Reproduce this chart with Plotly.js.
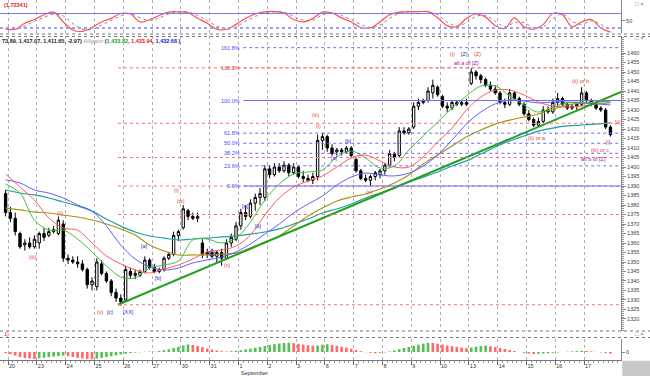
<!DOCTYPE html>
<html><head><meta charset="utf-8">
<script src="https://cdn.plot.ly/plotly-3.0.1.min.js"></script>
<style>html,body{margin:0;padding:0;background:#fff}#chart{width:650px;height:376px}</style>
</head><body><div id="chart"></div>
<script>
// ---- data ----
const dayLabels = ['20','23','24','25','26','27','30','31','1','2','3','6','7','8','9','10','13','14','15','16','17'];
const dayTicks = [0.5,6.5,12.5,18.5,24.5,30.5,36.5,42.5,48.5,54.5,60.5,66.5,72.5,78.5,84.5,90.5,96.5,102.5,108.5,114.5,120.5];

const open = [1386,1376,1373,1365,1359,1360,1358,1360,1365,1364,
1366,1365,1370,1352,1351,1350,1349,1346,1338,1337,
1349,1344,1340,1334,1331,1330,1345,1343,1343,1345,
1351,1347,1345,1346,1352,1354,1364,1368,1377,1374,
1373,1360,1354,1355,1353,1355,1352,1360,1362,1369,
1376,1374,1381,1384,1384,1399,1396,1400,1398,1401,
1397,1400,1395,1394,1393,1395,1414,1416,1410,1408,
1409,1408,1410,1404,1398,1394,1393,1395,1396,1398,
1401,1407,1406,1419,1418,1421,1432,1434,1435,1439,
1442,1437,1432,1431,1434,1433,1434,1444,1450,1448,
1446,1443,1441,1439,1434,1433,1439,1436,1433,1428,
1425,1422,1424,1430,1429,1434,1436,1433,1431,1432,
1433,1439,1435,1433,1431,1430,1421];
const high = [1388,1379,1376,1366,1362,1363,1364,1366,1368,1368,
1369,1374,1372,1354,1353,1353,1351,1347,1342,1352,
1351,1345,1341,1336,1333,1348,1347,1346,1346,1353,
1352,1349,1347,1353,1355,1366,1367,1380,1378,1376,
1376,1362,1357,1357,1356,1357,1362,1365,1371,1378,
1380,1383,1386,1389,1401,1401,1402,1402,1403,1402,
1402,1401,1398,1396,1397,1417,1418,1417,1412,1410,
1410,1411,1411,1405,1399,1396,1396,1398,1399,1402,
1409,1408,1421,1421,1421,1434,1436,1436,1442,1446,
1443,1438,1434,1435,1435,1435,1436,1452,1451,1449,
1447,1445,1443,1440,1436,1441,1440,1437,1434,1430,
1426,1426,1432,1432,1436,1439,1437,1434,1433,1434,
1442,1440,1436,1434,1432,1431,1422];
const low = [1374,1371,1364,1357,1356,1357,1357,1357,1361,1363,
1365,1364,1350,1349,1349,1347,1345,1336,1335,1335,
1343,1339,1332,1329,1327,1329,1341,1341,1342,1344,
1346,1344,1344,1345,1351,1353,1361,1367,1372,1372,
1371,1352,1352,1352,1350,1348,1351,1358,1361,1367,
1372,1373,1377,1380,1382,1394,1395,1397,1397,1395,
1396,1394,1392,1392,1391,1393,1409,1408,1406,1406,
1406,1407,1405,1397,1393,1392,1390,1393,1394,1396,
1400,1403,1405,1417,1417,1420,1430,1433,1434,1436,
1437,1431,1429,1430,1432,1432,1432,1443,1446,1444,
1442,1440,1438,1433,1431,1432,1435,1432,1427,1424,
1421,1421,1423,1428,1428,1432,1432,1430,1430,1430,
1432,1434,1432,1430,1429,1420,1416];
const close = [1376,1373,1366,1358,1360,1358,1362,1365,1363,1366,
1367,1372,1352,1351,1350,1349,1346,1338,1340,1350,
1344,1340,1334,1331,1329,1346,1343,1344,1345,1351,
1347,1345,1346,1352,1354,1364,1366,1378,1374,1373,
1374,1354,1355,1353,1355,1352,1360,1363,1369,1376,
1374,1381,1384,1386,1399,1396,1400,1398,1401,1397,
1400,1395,1394,1393,1395,1414,1416,1410,1407,1409,
1408,1410,1406,1398,1394,1393,1395,1397,1398,1401,
1407,1405,1419,1418,1420,1432,1434,1435,1440,1443,
1438,1432,1431,1434,1433,1434,1433,1450,1448,1446,
1443,1441,1439,1434,1433,1439,1436,1433,1428,1425,
1422,1424,1430,1429,1434,1436,1433,1431,1432,1433,
1439,1435,1433,1431,1430,1421,1417];

const maX = [0,3,6,9,12,15,18,21,24,27,30,33,36,39,42,45,48,51,54,57,60,63,66,69,72,75,78,81,84,87,90,93,96,99,102,105,108,111,114,117,120,123,126];
const lips = [1391.1,1386.3,1372.1,1366.8,1366.8,1362.1,1355.3,1347.9,1342.1,1341.6,1346.8,1348.4,1350.5,1361.6,1362.1,1360,1362.6,1371,1382.6,1391,1396.3,1397.4,1398.4,1405.3,1408.4,1404.7,1399.5,1400.5,1408.9,1416.3,1423.7,1431,1437.4,1442.6,1442.6,1437.4,1432.6,1428.9,1431.6,1433.7,1434.2,1433.5,1433.8];
const teeth = [1396.3,1389.5,1382.6,1373.2,1367.9,1366.8,1360,1353.2,1349,1345.8,1344.2,1346.3,1348.4,1351.6,1355.3,1356.3,1358.4,1364.2,1374.7,1383.7,1389.5,1392.6,1395.3,1400,1404.7,1406.3,1403.2,1400,1400,1405.3,1413.2,1420.5,1430,1436.8,1440.5,1440.5,1437.9,1434.2,1432.1,1431.6,1432.1,1433.2,1433.9];
const jaw = [1393.2,1391.6,1387.9,1386.3,1383.7,1380,1376.8,1368.9,1358.9,1351.6,1347.4,1345.8,1346.8,1349.5,1351.1,1352.6,1355.3,1359.5,1364.7,1370,1375.8,1380.5,1384.7,1390.5,1394.7,1396.8,1395.8,1395.3,1396.8,1400.5,1406.3,1414.2,1422.6,1428.9,1433.2,1435.3,1434.7,1433.7,1434.2,1434.2,1433.7,1433.2,1432.7];
const maOlive = [1378.4,1377.4,1376.3,1375.8,1374.7,1373.7,1372.1,1370,1367.4,1364.2,1358.9,1355.8,1353.7,1353.7,1353.7,1354.2,1354.7,1357.4,1360.5,1363.7,1368.9,1374.2,1378.4,1382.1,1384.2,1385.8,1388.4,1391.6,1395.8,1401.6,1406.3,1411.1,1415.8,1419.5,1422.6,1424.7,1426.3,1427.9,1430.5,1432.6,1433.7,1434.2,1434.7];
const maTeal = [1387.9,1386.3,1385.3,1383.7,1381.6,1379.5,1376.8,1372.6,1368.9,1365.8,1363.7,1362.6,1361.6,1362.1,1362.6,1363.2,1363.7,1364.7,1365.8,1367.4,1370,1372.6,1375.8,1377.9,1380.5,1383.7,1386.3,1388.9,1392.1,1394.7,1397.4,1400.5,1403.2,1406.8,1410.5,1413.7,1416.3,1418.9,1420.5,1421.6,1422.1,1422.6,1423.2];

const stX = [0,2,4,6,8,10,12,14,16,18,20,22,24,26,28,30,32,34,36,38,40,42,44,46,48,50,52,54,56,58,60,62,64,66,68,70,72,74,76,78,80,82,84,86,88,90,92,94,96,98,100,102,104,106,108,110,112,114,116,118,120,122,124,126];
const stochK = [15,15,40,55,75,86,45,12,6,22,45,60,80,78,45,55,72,86,87,84,60,40,15,15,35,60,78,87,88,82,55,45,60,86,82,62,45,22,20,45,75,86,88,87,88,62,30,25,60,78,65,30,18,62,25,15,35,80,75,25,45,55,20,3];
const stochD = [18,14,28,48,64,78,70,38,15,14,32,52,70,80,62,52,62,78,86,86,72,50,28,15,25,48,68,82,87,86,68,52,52,74,84,72,55,34,22,32,60,80,87,88,87,75,45,28,42,68,72,48,25,42,42,22,25,58,78,48,35,50,35,12];

const ao = [-1,-2,-3.5,-5,-6,-6.5,-7,-6.3,-5.8,-5.2,
-4.6,-4,-3.5,-4.2,-5,-5.8,-6.5,-7,-7.3,-6.6,
-5.8,-5,-4.2,-3.4,-2.6,-1.8,-1,-0.6,-0.3,0.2,
0.4,0.3,1,1.8,2.8,4,5.2,6.5,7.5,7,
6,4.8,3.5,2.4,1.5,0.8,0.5,0.8,1.2,1.8,
2.6,3.4,4.2,5,6,7,7.8,8.5,9,9.3,
8.8,8.2,7.5,6.8,6.2,6.5,7.3,7.8,7.2,6.3,
5.3,4.3,3.2,2,0.8,-0.2,-0.8,-1.2,-0.9,-0.4,
0.5,1.5,2.8,4,5,6.2,7.3,8.4,9.2,9,
8.3,7.5,6.6,5.8,5,4.4,3.8,4.5,5.4,6,
6.4,5.8,5,4,3,2,1,0,-0.8,-1.5,
-2,-1.8,-1.5,-1.2,-0.8,-0.4,0,0.3,0.6,0.9,
1.2,1,0.6,0.1,-0.4,-0.9,-1.5];

const priceTicks = [1320,1325,1330,1335,1340,1345,1350,1355,1360,1365,1370,1375,1380,1385,1390,1395,1400,1405,1410,1415,1420,1425,1430,1435,1440,1445,1450,1455,1460];

const fibPrices = [1390,1400.6,1407.2,1412.5,1417.8,1435,1452.2,1462.8];
const fibLabels = ['0.0%','23.6%','38.2%','50.0%','61.8%','100.0%','138.2%','161.8%'];
const redLevels = [1452.2,1423,1405,1390,1375,1327.5];
const trendX = [23.4,128.2];
const trendY = [1327.5,1439.5];

const waveText = ['(iii)','(ii)','(v)','[c]','[XX]','[a]','[b]','(i)','(w)','[b]','(x)','[a]','[b]','(iii)','(i)','[a]','[b]','(x)','(i)','[Z]','(Z)','alt a of [Z]','(ii) or a','(ii) or b','[ii]','[i]','(iii) or c','alt b of [Z]'];
const waveX = [5.5,11.3,19.7,21.75,25.5,29,31.75,35.5,36.5,43.2,46.3,49.9,52.6,64.5,65.1,68.6,71.5,75.9,93,95.5,98.4,96.1,110.7,119.7,127.6,125.5,123.8,122.4];
const waveY = [1352.6,1375.8,1323.7,1323.7,1323.7,1358.4,1341.6,1387.9,1382.1,1354.7,1348.4,1379.5,1369,1427.4,1421.6,1404.7,1413.7,1386.8,1459.5,1459.5,1459.5,1454.7,1415.3,1445.3,1423.7,1413.2,1408.9,1404.2];
const waveColor = ['r','r','r','b','b','b','b','r','r','b','r','b','b','r','r','b','b','r','r','b','r','p','r','r','r','r','r','p'];

// ---- drawing ----
const COL = {r:'#e84040', b:'#3030d0', p:'#9020a0'};
const FIB_BLUE = '#6a6aff', FIB_RED = '#ff7070';
const xs = close.map((_, i) => i);
const aoColors = ao.map((v, i) => (i > 0 && v > ao[i-1]) ? '#55c055' : '#ff6a6a');

const traces = [
  {type:'scatter', mode:'lines', x:stX, y:stochD, xaxis:'x', yaxis:'y', line:{color:'#8a8a8a', width:1, dash:'dot', shape:'spline'}, hoverinfo:'skip'},
  {type:'scatter', mode:'lines', x:stX, y:stochK, xaxis:'x', yaxis:'y', line:{color:'#ff5050', width:1.2, shape:'spline'}, hoverinfo:'skip'},
  {type:'scatter', mode:'lines', x:maX, y:maTeal, xaxis:'x', yaxis:'y2', line:{color:'#1f9e9e', width:1.2, shape:'spline'}},
  {type:'scatter', mode:'lines', x:maX, y:maOlive, xaxis:'x', yaxis:'y2', line:{color:'#a89418', width:1.2, shape:'spline'}},
  {type:'scatter', mode:'lines', x:maX, y:jaw, xaxis:'x', yaxis:'y2', line:{color:'#6060ff', width:1, shape:'spline'}},
  {type:'scatter', mode:'lines', x:maX, y:teeth, xaxis:'x', yaxis:'y2', line:{color:'#ff5a5a', width:1, shape:'spline'}},
  {type:'scatter', mode:'lines', x:maX, y:lips, xaxis:'x', yaxis:'y2', line:{color:'#40c040', width:1, shape:'spline'}},
  {type:'candlestick', x:xs, open:open, high:high, low:low, close:close, xaxis:'x', yaxis:'y2',
   increasing:{line:{color:'#000', width:1}, fillcolor:'#ffffff'},
   decreasing:{line:{color:'#000', width:1}, fillcolor:'#000000'}, whiskerwidth:0, hoverinfo:'skip'},
  {type:'scatter', mode:'lines', x:trendX, y:trendY, xaxis:'x', yaxis:'y2', line:{color:'#22a022', width:2}},
  {type:'bar', x:xs, y:ao, xaxis:'x', yaxis:'y3', marker:{color:aoColors, line:{width:0}}, width:0.55}
];

const shapes = [];
shapes.push({type:'line', xref:'x domain', yref:'y', x0:0, x1:1, y0:80, y1:80, line:{color:'#7878ff', width:1}});
shapes.push({type:'line', xref:'x domain', yref:'y', x0:0, x1:1, y0:20, y1:20, line:{color:'#9a9aff', width:2, dash:'dot'}});
redLevels.forEach(p => shapes.push({type:'line', xref:'x', yref:'y2', x0:23.4, x1:128.2, y0:p, y1:p, line:{color:FIB_RED, width:1, dash:'dot'}}));
fibPrices.forEach((p, i) => {
  const solid = (fibLabels[i] === '0.0%' || fibLabels[i] === '100.0%');
  const red = fibLabels[i] === '138.2%';
  shapes.push({type:'line', xref:'x', yref:'y2', x0:49.5, x1:128.2, y0:p, y1:p, line:{color: red ? FIB_RED : FIB_BLUE, width:1, dash: solid ? 'solid' : 'dot'}});
});
[34, 36.5, 331, 337.5].forEach(py => shapes.push({type:'line', xref:'paper', yref:'paper', x0:0, x1:1.0467, y0:1 - py/360, y1:1 - py/360, line:{color:'#777', width:1, dash:'dot'}}));
shapes.push({type:'rect', xref:'paper', yref:'paper', x0:1.002, x1:1.0467, y0:-0.0445, y1:-0.002, fillcolor:'#c8c8c8', line:{width:0}});

const annotations = [];
fibPrices.forEach((p, i) => annotations.push({x:49.3, y:p, xref:'x', yref:'y2', text:fibLabels[i], showarrow:false, xanchor:'right', yanchor:'middle', font:{size:5.5, color: fibLabels[i]==='138.2%' ? '#e04040' : '#4a4aff'}}));
waveText.forEach((t, i) => annotations.push({x:waveX[i], y:waveY[i], xref:'x', yref:'y2', text:t, showarrow:false, xanchor:'center', yanchor:'middle', font:{size:5.5, color:COL[waveColor[i]]}}));
annotations.push({x:0.003, y:1 - 5/360, xref:'paper', yref:'paper', text:'<b>(1.72341)</b>', showarrow:false, xanchor:'left', yanchor:'middle', font:{size:5.5, color:'#e02020'}});
annotations.push({x:0, y:1 - 41/360, xref:'paper', yref:'paper', showarrow:false, xanchor:'left', yanchor:'middle', font:{size:5.5, color:'#222'},
  text:'<b>73.89, 1,417.07, 1,411.65, -2.97)</b> <i><span style="color:#999">Alligator</span></i> <b>(<span style="color:#20a020">1,433.82</span>, <span style="color:#e02020">1,433.94</span>, <span style="color:#2020e0">1,432.68</span> )</b>'});
annotations.push({x:0.003, y:1 - 334/360, xref:'paper', yref:'paper', text:'1)', showarrow:false, xanchor:'left', yanchor:'middle', font:{size:5.5, color:'#e02020'}});
annotations.push({x:48.7, y:-0.036, xref:'x', yref:'paper', text:'September', showarrow:false, xanchor:'left', yanchor:'middle', font:{size:5.5, color:'#333'}});
[4, 38, 334].forEach(py => annotations.push({x:1.03, y:1 - py/360, xref:'paper', yref:'paper', text:'□ ×', showarrow:false, xanchor:'center', yanchor:'middle', font:{size:6, color:'#777'}}));

const yCommon = {side:'right', anchor:'x', showgrid:false, zeroline:false, showline:true, linecolor:'#888', linewidth:1, ticks:'outside', ticklen:3, tickcolor:'#888', tickfont:{size:5.5, color:'#444'}, fixedrange:true};

const layout = {
  width:650, height:376, margin:{l:0, r:29, t:0, b:16, pad:0},
  paper_bgcolor:'#ffffff', plot_bgcolor:'#ffffff', showlegend:false, hovermode:false,
  font:{family:'Liberation Sans, Arial, sans-serif', size:5.5, color:'#333'},
  xaxis:{anchor:'y3', range:[-1.17,128.2], tickmode:'array', tickvals:dayTicks, ticktext:dayLabels,
    ticks:'outside', ticklen:4, tickcolor:'#666', ticklabelposition:'outside right', tickfont:{size:5.5, color:'#333'},
    showgrid:true, gridcolor:'#b0b0b0', griddash:'dot', gridwidth:1, showline:true, linecolor:'#777', zeroline:false,
    rangeslider:{visible:false}, fixedrange:true,
    minor:{tickmode:'linear', tick0:0.5, dtick:1, ticks:'outside', ticklen:2, tickcolor:'#999', showgrid:false}},
  yaxis: Object.assign({}, yCommon, {domain:[1 - 33/360, 1], range:[-0.7,135.9], tickmode:'array', tickvals:[50], ticktext:['50']}),
  yaxis2: Object.assign({}, yCommon, {domain:[1 - 331/360, 1 - 36/360], range:[1313.68,1468.95], tickmode:'array', tickvals:priceTicks, ticklen:4,
    minor:{tickmode:'linear', tick0:0, dtick:1, ticks:'outside', ticklen:2, tickcolor:'#999', showgrid:false}}),
  yaxis3: Object.assign({}, yCommon, {domain:[0, 1 - 339/360], range:[-8,13], tickmode:'array', tickvals:[0], ticktext:['0']}),
  shapes: shapes, annotations: annotations
};

Plotly.newPlot('chart', traces, layout, {displayModeBar:false, staticPlot:true});
</script></body></html>
